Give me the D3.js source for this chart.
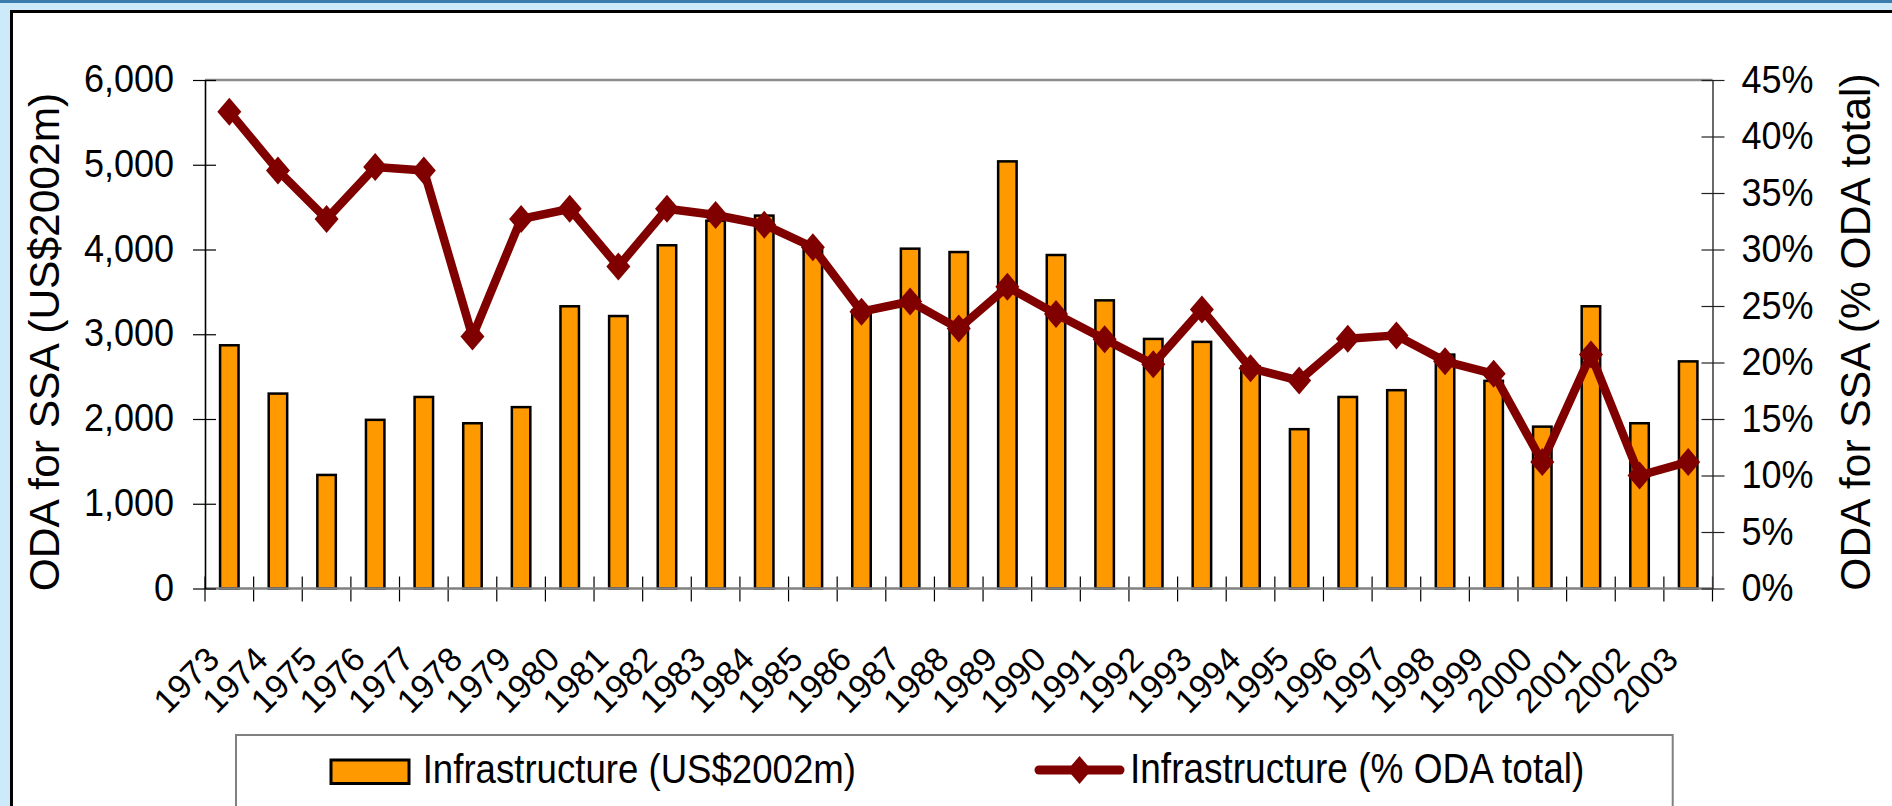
<!DOCTYPE html>
<html>
<head>
<meta charset="utf-8">
<script src="https://cdn.jsdelivr.net/npm/d3@7"></script>
<style>
  body { margin: 0; overflow: hidden; background: #cdeafb; }
  text { font-family: "Liberation Sans", Arial, sans-serif; fill: #000; }
</style>
</head>
<body>
<svg id="chart" width="1892" height="806"></svg>
<script>
var years = [1973, 1974, 1975, 1976, 1977, 1978, 1979, 1980, 1981, 1982, 1983, 1984, 1985, 1986, 1987, 1988,
  1989, 1990, 1991, 1992, 1993, 1994, 1995, 1996, 1997, 1998, 1999, 2000, 2001, 2002, 2003];

// Infrastructure ODA for SSA, US$2002m (bars, left axis)
var infraUSD = [2870, 2300, 1340, 1990, 2260, 1950, 2140, 3330, 3215, 4050, 4340, 4400, 4020, 3280, 4010, 3970,
  5040, 3935, 3400, 2945, 2910, 2620, 1880, 2260, 2340, 2760, 2450, 1910, 3330, 1950, 2680];

// Infrastructure share of total ODA, % (line, right axis)
var infraPct = [42.2, 37.0, 32.7, 37.3, 37.0, 22.3, 32.7, 33.6, 28.5, 33.6, 33.05, 32.2, 30.2, 24.5, 25.4, 23.0,
  26.7, 24.3, 22.05, 19.85, 24.7, 19.5, 18.4, 22.1, 22.4, 20.1, 19.0, 11.2, 20.7, 10.0, 11.2];

var usdTicks = [0, 1000, 2000, 3000, 4000, 5000, 6000];
var pctTicks = [0, 0.05, 0.10, 0.15, 0.20, 0.25, 0.30, 0.35, 0.40, 0.45];

var legendLabels = ["Infrastructure (US$2002m)", "Infrastructure (% ODA total)"];
var titleLeft = "ODA for SSA (US$2002m)";
var titleRight = "ODA for SSA (% ODA total)";

var barColor = "#ff9900";
var lineColor = "#800000";

const svg = d3.select("#chart");
const plot = { left: 205, right: 1712.5, top: 80, bottom: 588.5 };

// page frame
svg.append("rect").attr("width", 1892).attr("height", 806).attr("fill", "#cdeafb");
svg.append("rect").attr("width", 1892).attr("height", 3).attr("fill", "#3a7cab");
svg.append("rect")
  .attr("x", 11.5).attr("y", 11.5)
  .attr("width", 1900).attr("height", 820)
  .attr("fill", "#fff")
  .attr("stroke", "#000")
  .attr("stroke-width", 3);

const x = d3.scaleBand().domain(years).range([plot.left, plot.right]);
const yL = d3.scaleLinear().domain([0, 6000]).range([plot.bottom, plot.top]);
const yR = d3.scaleLinear().domain([0, 0.45]).range([plot.bottom, plot.top]);
const cx = d => x(d) + x.bandwidth() / 2;
const barW = x.bandwidth() * 0.38;

// plot area top edge
svg.append("line")
  .attr("x1", plot.left).attr("x2", plot.right)
  .attr("y1", plot.top).attr("y2", plot.top)
  .attr("stroke", "#8c8c8c")
  .attr("stroke-width", 2.5);

// bars
svg.append("g")
  .selectAll("rect")
  .data(years)
  .join("rect")
  .attr("x", d => cx(d) - barW / 2)
  .attr("width", barW)
  .attr("y", (d, i) => yL(infraUSD[i]))
  .attr("height", (d, i) => plot.bottom - yL(infraUSD[i]))
  .attr("fill", barColor)
  .attr("stroke", "#000")
  .attr("stroke-width", 2.5);

// category ticks on the band edges
var edges = years.map(d => x(d)).concat([plot.right]);
svg.append("g")
  .selectAll("line")
  .data(edges)
  .join("line")
  .attr("x1", d => d).attr("x2", d => d)
  .attr("y1", plot.bottom - 12).attr("y2", plot.bottom + 13)
  .attr("stroke", "#000")
  .attr("stroke-width", 1.2);

// x axis line
svg.append("line")
  .attr("x1", plot.left).attr("x2", plot.right)
  .attr("y1", plot.bottom).attr("y2", plot.bottom)
  .attr("stroke", "#808080")
  .attr("stroke-width", 2.5);

// year labels
svg.append("g")
  .attr("transform", `translate(0,${plot.bottom})`)
  .call(d3.axisBottom(x).tickSize(0))
  .attr("font-size", 34)
  .call(g => g.select(".domain").remove())
  .call(g => g.selectAll(".tick text")
    .attr("y", null).attr("dy", null)
    .attr("text-anchor", "end")
    .attr("transform", "translate(-8,73) rotate(-45)"));

// left axis
svg.append("g")
  .attr("transform", `translate(${plot.left},0)`)
  .call(d3.axisLeft(yL).tickValues(usdTicks).tickFormat(d3.format(",")).tickSizeOuter(0).tickSizeInner(12))
  .attr("font-size", 36)
  .call(g => g.select(".domain").attr("stroke", "#000").attr("stroke-width", 1.6))
  .call(g => g.selectAll(".tick line").attr("x1", 11).attr("x2", -12).attr("stroke-width", 1.2))
  .call(g => g.selectAll(".tick text")
    .attr("x", null).attr("dy", null)
    .attr("transform", "translate(-31,11.7) scale(1,1.07)"));

// right axis
svg.append("g")
  .attr("transform", `translate(${plot.right},0)`)
  .call(d3.axisRight(yR).tickValues(pctTicks).tickFormat(d3.format(".0%")).tickSizeOuter(0).tickSizeInner(12))
  .attr("font-size", 36)
  .call(g => g.select(".domain").attr("stroke", "#444").attr("stroke-width", 1.6))
  .call(g => g.selectAll(".tick line").attr("x1", -11).attr("x2", 12).attr("stroke", "#222").attr("stroke-width", 1.2))
  .call(g => g.selectAll(".tick text")
    .attr("x", null).attr("dy", null)
    .attr("transform", "translate(29,12) scale(1,1.07)"));

// line series with diamond markers
const line = d3.line()
  .x((d, i) => cx(years[i]))
  .y(d => yR(d / 100));

svg.append("path")
  .datum(infraPct)
  .attr("d", line)
  .attr("fill", "none")
  .attr("stroke", lineColor)
  .attr("stroke-width", 8.5)
  .attr("stroke-linejoin", "round");

const diamond = "M0,-14L12,0L0,14L-12,0Z";
svg.append("g")
  .selectAll("path")
  .data(infraPct)
  .join("path")
  .attr("d", diamond)
  .attr("transform", (d, i) => `translate(${cx(years[i])},${yR(d / 100)})`)
  .attr("fill", lineColor);

// axis titles
svg.append("text")
  .attr("transform", "translate(59,342) rotate(-90)")
  .attr("text-anchor", "middle")
  .attr("font-size", 42.5)
  .text(titleLeft);

svg.append("text")
  .attr("transform", "translate(1870,332) rotate(-90)")
  .attr("text-anchor", "middle")
  .attr("font-size", 42.5)
  .text(titleRight);

// legend
const legend = svg.append("g");
legend.append("rect")
  .attr("x", 236).attr("y", 735)
  .attr("width", 1436.7).attr("height", 120)
  .attr("fill", "#fff")
  .attr("stroke", "#808080")
  .attr("stroke-width", 2);

legend.append("rect")
  .attr("x", 331).attr("y", 760)
  .attr("width", 78).attr("height", 23.5)
  .attr("fill", barColor)
  .attr("stroke", "#000")
  .attr("stroke-width", 3);

legend.append("text")
  .attr("transform", "translate(422.7,783.3) scale(1,1.13)")
  .attr("font-size", 36.6)
  .text(legendLabels[0]);

legend.append("line")
  .attr("x1", 1039).attr("x2", 1120)
  .attr("y1", 770).attr("y2", 770)
  .attr("stroke", lineColor)
  .attr("stroke-width", 9)
  .attr("stroke-linecap", "round");

legend.append("path")
  .attr("d", diamond)
  .attr("transform", "translate(1079.5,770)")
  .attr("fill", lineColor);

legend.append("text")
  .attr("transform", "translate(1130,783.3) scale(1,1.13)")
  .attr("font-size", 37)
  .text(legendLabels[1]);
</script>
</body>
</html>
